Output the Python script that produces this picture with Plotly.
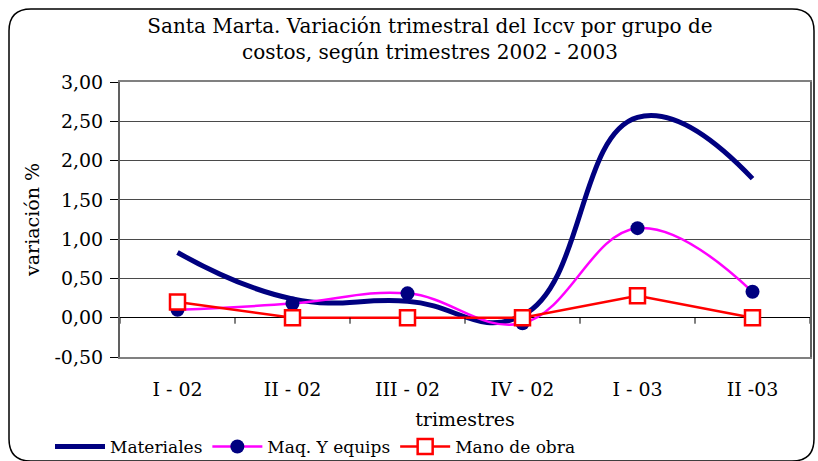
import plotly.graph_objects as go

quarters = ["I - 02", "II - 02", "III - 02", "IV - 02", "I - 03", "II -03"]
materiales = [0.83, 0.24, 0.21, 0.03, 2.55, 1.77]
maq_equips = [0.10, 0.18, 0.31, -0.07, 1.14, 0.33]
mano_obra = [0.20, 0.00, 0.00, 0.00, 0.28, 0.00]

y_ticks = [-0.5, 0.0, 0.5, 1.0, 1.5, 2.0, 2.5, 3.0]
y_tick_labels = ["-0,50", "0,00", "0,50", "1,00", "1,50", "2,00", "2,50", "3,00"]

FONT = "DejaVu Serif"
W, H = 818, 461
ML, MR, MT, MB = 120, 8, 82, 104
PW, PH = W - ML - MR, H - MT - MB

fig = go.Figure()
fig.add_trace(go.Scatter(
    x=quarters, y=materiales, name="Materiales", mode="lines",
    line=dict(color="#000080", width=5, shape="spline", smoothing=1.3),
))
fig.add_trace(go.Scatter(
    x=quarters, y=maq_equips, name="Maq. Y equips", mode="lines+markers",
    line=dict(color="#FF00FF", width=2.5, shape="spline", smoothing=1.15),
    marker=dict(symbol="circle", size=14, color="#000080", line=dict(width=0)),
))
fig.add_trace(go.Scatter(
    x=quarters, y=mano_obra, name="Mano de obra", mode="lines+markers",
    line=dict(color="#FF0000", width=2.5),
    marker=dict(symbol="square", size=15, color="white", line=dict(color="#FF0000", width=2.5)),
))

shapes = []
# tick marks on the zero line at category boundaries
for i in range(len(quarters) + 1):
    shapes.append(dict(type="line", xref="x", yref="y", x0=i - 0.5, x1=i - 0.5,
                       ysizemode="pixel", yanchor=0, y0=0, y1=-6,
                       line=dict(color="black", width=1)))

# rounded outer chart border (pixel -> paper)
def px(x):
    return (x - ML) / PW
def py(y):
    return (H - MB - y) / PH
x0, x1, y0, y1, r = 9, 814, 9, 461, 22
path = (f"M {px(x0 + r)} {py(y0)} L {px(x1 - r)} {py(y0)} "
        f"Q {px(x1)} {py(y0)} {px(x1)} {py(y0 + r)} L {px(x1)} {py(y1 - r)} "
        f"Q {px(x1)} {py(y1)} {px(x1 - r)} {py(y1)} L {px(x0 + r)} {py(y1)} "
        f"Q {px(x0)} {py(y1)} {px(x0)} {py(y1 - r)} L {px(x0)} {py(y0 + r)} "
        f"Q {px(x0)} {py(y0)} {px(x0 + r)} {py(y0)} Z")
shapes.append(dict(type="path", xref="paper", yref="paper", path=path,
                   line=dict(color="black", width=1.5), layer="below"))

fig.update_layout(
    width=W, height=H,
    margin=dict(l=ML, r=MR, t=MT, b=MB, autoexpand=False),
    paper_bgcolor="white", plot_bgcolor="white",
    separators=", ",
    font=dict(family=FONT, size=19, color="black"),
    title=dict(
        text="Santa Marta. Variación trimestral del Iccv por grupo de<br>costos, según trimestres 2002 - 2003",
        x=430 / W, xref="container", xanchor="center",
        y=1 - 33 / H, yref="container", yanchor="middle",
        font=dict(family=FONT, size=20, color="black"),
    ),
    xaxis=dict(
        type="category", categoryorder="array", categoryarray=quarters,
        range=[-0.5, len(quarters) - 0.5], automargin=False,
        showgrid=False, zeroline=False,
        showline=True, linecolor="#808080", linewidth=2, mirror=True,
        ticks="", ticklabelstandoff=14,
        tickfont=dict(family=FONT, size=19),
        title=dict(text="trimestres", font=dict(family=FONT, size=19), standoff=14),
    ),
    yaxis=dict(
        range=[-0.5, 3.0], tickmode="array", tickvals=y_ticks, ticktext=y_tick_labels,
        automargin=False,
        showgrid=True, gridcolor="#4a4a4a", gridwidth=1,
        zeroline=True, zerolinecolor="black", zerolinewidth=1,
        showline=True, linecolor="#606060", linewidth=2, mirror=True,
        ticks="outside", ticklen=8, tickcolor="black", tickwidth=1,
        ticklabelstandoff=3,
        tickfont=dict(family=FONT, size=19),
        title=dict(text="variación %", font=dict(family=FONT, size=19), standoff=10),
    ),
    legend=dict(
        orientation="h", x=(50 - ML) / PW, xanchor="left",
        y=(H - MB - 447) / PH, yanchor="middle",
        font=dict(family=FONT, size=17), itemwidth=50,
        bgcolor="rgba(0,0,0,0)", tracegroupgap=0,
    ),
    showlegend=True,
    shapes=shapes,
)

fig.write_html("out.html", config={"displayModeBar": False},
               post_script="document.body.style.margin='0';document.body.style.padding='0';document.body.style.overflow='hidden';")
